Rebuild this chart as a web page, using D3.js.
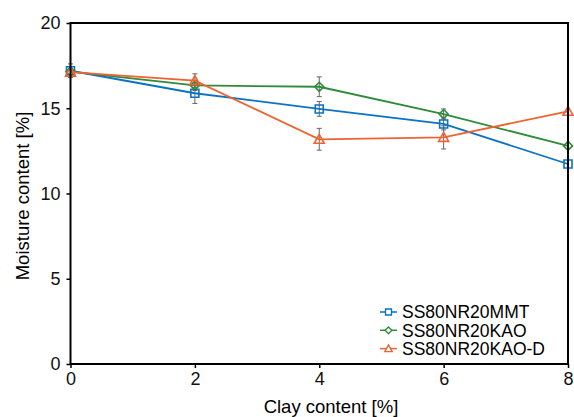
<!DOCTYPE html>
<html>
<head>
<meta charset="utf-8">
<script src="https://cdn.jsdelivr.net/npm/d3@7"></script>
<style>
  body { margin: 0; background: #fff; }
  svg { font-family: "Liberation Sans", Arial, sans-serif; }
</style>
</head>
<body>
<script>
var clay = [0, 2, 4, 6, 8];
var names = ["SS80NR20MMT", "SS80NR20KAO", "SS80NR20KAO-D"];
var mmt = [17.2, 15.88, 14.96, 14.08, 11.73];
var mmtErr = [0.4, 0.6, 0.43, 0.35, 0];
var kao = [17.15, 16.34, 16.26, 14.66, 12.79];
var kaoErr = [0.3, 0.3, 0.58, 0.3, 0];
var kaoD = [17.12, 16.62, 13.18, 13.29, 14.82];
var kaoDErr = [0.2, 0.4, 0.64, 0.68, 0];
var xTicks = [0, 2, 4, 6, 8];
var yTicks = [0, 5, 10, 15, 20];

var series = [
    { name: names[0], vals: mmt, err: mmtErr, color: "#0b72c4", shape: "square" },
    { name: names[1], vals: kao, err: kaoErr, color: "#2e8b3a", shape: "diamond" },
    { name: names[2], vals: kaoD, err: kaoDErr, color: "#ee6330", shape: "triangle" }
];

var width = 574, height = 417;
var margin = { top: 23, right: 6, bottom: 53, left: 70.5 };

var svg = d3.select("body").append("svg")
    .attr("width", width)
    .attr("height", height);

var x = d3.scaleLinear().domain([0, 8]).range([margin.left, width - margin.right]);
var y = d3.scaleLinear().domain([0, 20]).range([height - margin.bottom, margin.top]);

function markerPath(shape) {
    if (shape == "square") return "M-4,-4H4V4H-4Z";
    if (shape == "diamond") return "M0,-4.5L4.5,0L0,4.5L-4.5,0Z";
    return "M0,-5L5,4H-5Z";
}

// error bars
series.forEach(s => {
    var g = svg.append("g").attr("stroke", "#666").attr("stroke-width", 1);
    clay.forEach((c, i) => {
        if (!s.err[i]) return;
        var px = x(c), y0 = y(s.vals[i] - s.err[i]), y1 = y(s.vals[i] + s.err[i]);
        g.append("line").attr("x1", px).attr("x2", px).attr("y1", y0).attr("y2", y1);
        g.append("line").attr("x1", px - 2.5).attr("x2", px + 2.5).attr("y1", y0).attr("y2", y0);
        g.append("line").attr("x1", px - 2.5).attr("x2", px + 2.5).attr("y1", y1).attr("y2", y1);
    });
});

var line = d3.line().x((d, i) => x(clay[i])).y(d => y(d));

series.forEach(s => {
    svg.append("path")
        .attr("d", line(s.vals))
        .attr("fill", "none")
        .attr("stroke", s.color)
        .attr("stroke-width", 1.8);
    svg.append("g").selectAll("path")
        .data(s.vals)
        .join("path")
        .attr("transform", (d, i) => `translate(${x(clay[i])},${y(d)})`)
        .attr("d", markerPath(s.shape))
        .attr("fill", "none")
        .attr("stroke", s.color)
        .attr("stroke-width", 1.6);
});

// frame
svg.append("rect")
    .attr("x", margin.left).attr("y", margin.top)
    .attr("width", width - margin.right - margin.left)
    .attr("height", height - margin.bottom - margin.top)
    .attr("fill", "none").attr("stroke", "#000").attr("stroke-width", 2);

var xAxis = svg.append("g")
    .attr("transform", `translate(0,${height - margin.bottom})`)
    .call(d3.axisBottom(x).tickValues(xTicks).tickFormat(d3.format("d")).tickSize(4).tickPadding(4));
var yAxis = svg.append("g")
    .attr("transform", `translate(${margin.left},0)`)
    .call(d3.axisLeft(y).tickValues(yTicks).tickFormat(d3.format("d")).tickSize(4).tickPadding(6));

[xAxis, yAxis].forEach(a => {
    a.select(".domain").remove();
    a.selectAll("line").attr("stroke-width", 1.5);
    a.selectAll("text").attr("font-size", 18).attr("fill", "#111").style("font-family", "Liberation Sans, Arial, sans-serif");
});

svg.append("text")
    .attr("x", 331)
    .attr("y", 413)
    .attr("text-anchor", "middle")
    .attr("font-size", 18.5)
    .text("Clay content [%]");

svg.append("text")
    .attr("transform", "translate(29,196) rotate(-90)")
    .attr("text-anchor", "middle")
    .attr("font-size", 18.5)
    .text("Moisture content [%]");

// legend
var legend = svg.append("g").attr("transform", "translate(380,312)");
series.forEach((s, i) => {
    var g = legend.append("g").attr("transform", `translate(0,${i * 18.3})`);
    g.append("line").attr("x1", 0).attr("x2", 17).attr("stroke", s.color).attr("stroke-width", 1.5);
    g.append("path").attr("transform", "translate(8.5,0) scale(0.75)")
        .attr("d", markerPath(s.shape))
        .attr("fill", "#fff").attr("stroke", s.color).attr("stroke-width", 1.8);
    g.append("text").attr("x", 22).attr("y", 0).attr("dy", "0.36em")
        .attr("font-size", 17.5).text(s.name);
});
</script>
</body>
</html>
